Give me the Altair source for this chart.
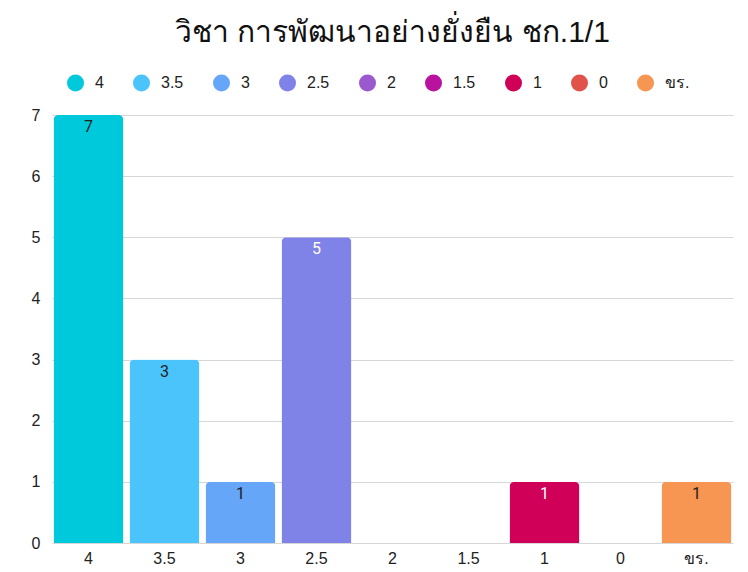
import altair as alt
import pandas as pd

categories = ["4", "3.5", "3", "2.5", "2", "1.5", "1", "0", "ขร."]
counts = [7, 3, 1, 5, 0, 0, 1, 0, 1]
colors = ["#00c9db", "#4bc3fb", "#65a6f8", "#7f82e6", "#9b59d0",
          "#b8129e", "#d00059", "#e0524a", "#f79552"]
label_colors = ["#222222", "#222222", "#222222", "#ffffff", "#222222",
                "#222222", "#ffffff", "#222222", "#222222"]

df = pd.DataFrame({"grade": categories, "count": counts, "lc": label_colors})
df_lab = df[df["count"] > 0]

color_scale = alt.Scale(domain=categories, range=colors)
x_enc = alt.X("grade:N", sort=categories, title=None,
              scale=alt.Scale(paddingInner=0.08, paddingOuter=0.02),
              axis=alt.Axis(labelAngle=0, labelFontSize=16, labelColor="#222222",
                            ticks=False, domain=False, labelPadding=7))

bars = alt.Chart(df).mark_bar(cornerRadiusTopLeft=5, cornerRadiusTopRight=5).encode(
    x=x_enc,
    y=alt.Y("count:Q", title=None, scale=alt.Scale(domain=[0, 7]),
            axis=alt.Axis(values=list(range(8)), format="d", labelFontSize=16,
                          labelColor="#222222", ticks=False, domain=False,
                          gridColor="#d6d6d6", labelPadding=12)),
    color=alt.Color("grade:N", scale=color_scale, sort=categories, title=None,
                    legend=alt.Legend(orient="none", direction="horizontal",
                                      legendX=14, legendY=-42,
                                      symbolType="circle", symbolSize=290,
                                      labelFontSize=16, labelColor="#222222",
                                      labelOffset=10, columnPadding=28,
                                      symbolOpacity=1)),
)

labels = alt.Chart(df_lab).mark_text(dy=12, fontSize=16, font="Roboto").encode(
    x=alt.X("grade:N", sort=categories),
    y=alt.Y("count:Q"),
    text=alt.Text("count:Q"),
    color=alt.Color("lc:N", scale=None),
)

chart = alt.layer(bars, labels).properties(
    width=681, height=428,
    background="white",
    padding={"left": 23, "top": 10, "right": 5, "bottom": 5},
    title=alt.TitleParams("วิชา การพัฒนาอย่างยั่งยืน ชก.1/1", fontSize=30,
                          fontWeight="normal", color="#111111", offset=25),
).configure_view(strokeWidth=0)

chart.save("out.html", embed_options={"renderer": "svg", "actions": False})
